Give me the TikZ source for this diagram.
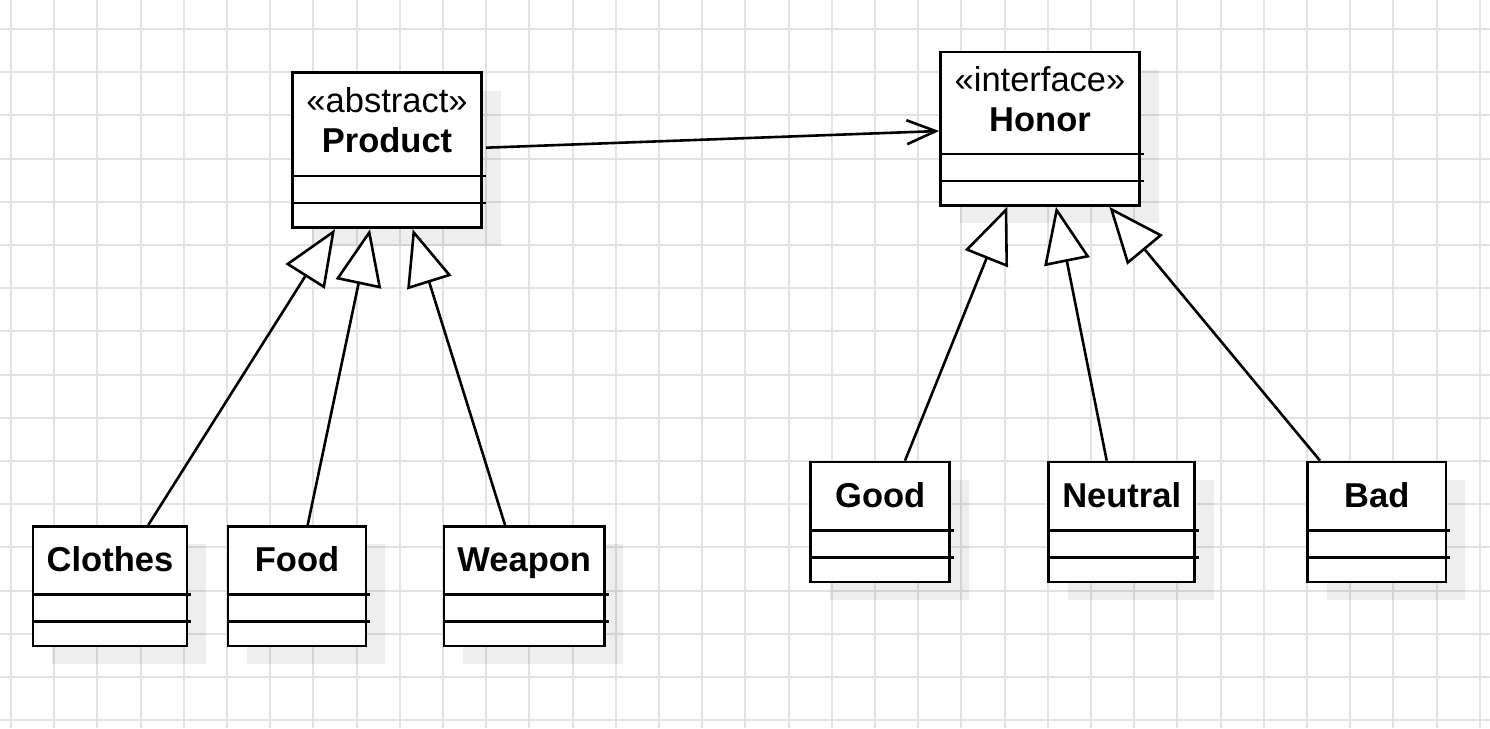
\documentclass[tikz,border=0pt]{standalone}
\usepackage{fontspec}
\setmainfont{Liberation Sans}
\usetikzlibrary{arrows.meta,shadows}
\definecolor{gridc}{HTML}{E2E2E2}
\tikzset{
  cls/.style={draw=black, line width=2.7pt, fill=white, rectangle, inner sep=0pt,
    drop shadow={shadow xshift=19pt, shadow yshift=-18pt, fill=black, opacity=0.065}},
  stereo/.style={font=\fontsize{34.5}{40}\selectfont, inner sep=0pt, anchor=base},
  cname/.style={font=\fontsize{34.5}{40}\selectfont\bfseries, inner sep=0pt, anchor=base},
  divider/.style={draw=black, line width=2.6pt},
  gen/.style={draw=black, line width=2.6pt, line join=miter,
    -{Triangle[open, length=56pt, width=46pt, fill=white]}},
  assoc/.style={draw=black, line width=2.6pt, -{Straight Barb[length=29pt, width=24pt]}},
  gridline/.style={draw=gridc, line width=2pt}
}
\newcommand\umlcompartments[1]{%
  \draw[divider] ([yshift=53pt]#1.south west) -- ([xshift=3pt,yshift=53pt]#1.south east);
  \draw[divider] ([yshift=26pt]#1.south west) -- ([xshift=3pt,yshift=26pt]#1.south east);
}
\begin{document}
\begin{tikzpicture}[x=1pt,y=-1pt]
\fill[white] (0,0) rectangle (1490,728);
\useasboundingbox (0,0) rectangle (1490,728);
\foreach \i in {0,...,34} \draw[gridline] ({11+43.2*\i},0) -- ({11+43.2*\i},728);
\foreach \i in {0,...,16} \draw[gridline] (0,{29+43.2*\i}) -- (1490,{29+43.2*\i});

% parent classes
\node[cls, minimum width=189pt, minimum height=155pt] (product) at (387,150.3) {};
\node[stereo] (productst) at ([yshift=-41pt]product.north) {«abstract»};
\node[cname] (productnm) at ([yshift=-81.5pt]product.north) {Product};
\umlcompartments{product}

\node[cls, minimum width=199pt, minimum height=153.5pt] (honor) at (1040,128.7) {};
\node[stereo] (honorst) at ([yshift=-41pt]honor.north) {«interface»};
\node[cname] (honornm) at ([yshift=-81pt]honor.north) {Honor};
\umlcompartments{honor}

% child classes
\node[cls, minimum width=154pt, minimum height=119.8pt] (clothes) at (110,586.2) {};
\node[cname] (clothesnm) at ([yshift=-47pt]clothes.north) {Clothes};
\umlcompartments{clothes}

\node[cls, minimum width=138pt, minimum height=119.8pt] (food) at (297,586.2) {};
\node[cname] (foodnm) at ([yshift=-47pt]food.north) {Food};
\umlcompartments{food}

\node[cls, minimum width=160.5pt, minimum height=119.8pt] (weapon) at (524.2,586.2) {};
\node[cname] (weaponnm) at ([yshift=-47pt]weapon.north) {Weapon};
\umlcompartments{weapon}

\node[cls, minimum width=139.2pt, minimum height=120pt] (good) at (880.2,522) {};
\node[cname] (goodnm) at ([yshift=-47pt]good.north) {Good};
\umlcompartments{good}

\node[cls, minimum width=146.2pt, minimum height=120pt] (neutral) at (1121.7,522) {};
\node[cname] (neutralnm) at ([yshift=-47pt]neutral.north) {Neutral};
\umlcompartments{neutral}

\node[cls, minimum width=138.5pt, minimum height=120pt] (bad) at (1376.8,522) {};
\node[cname] (badnm) at ([yshift=-47pt]bad.north) {Bad};
\umlcompartments{bad}

% generalizations
\draw[gen] ([xshift=38.3pt]clothes.north) -- ([xshift=-52pt]product.south);
\draw[gen] ([xshift=10.7pt]food.north) -- ([xshift=-17pt]product.south);
\draw[gen] ([xshift=-19.2pt]weapon.north) -- ([xshift=25.7pt]product.south);
\draw[gen] ([xshift=24.8pt]good.north) -- ([xshift=-32.7pt]honor.south);
\draw[gen] ([xshift=-15pt]neutral.north) -- ([xshift=16pt]honor.south);
\draw[gen] ([xshift=-56.8pt]bad.north) -- ([xshift=69.3pt]honor.south);

% association
\draw[assoc] ([xshift=3pt,yshift=2.6pt]product.east) -- ([yshift=-2.3pt]honor.west);
\end{tikzpicture}
\end{document}
